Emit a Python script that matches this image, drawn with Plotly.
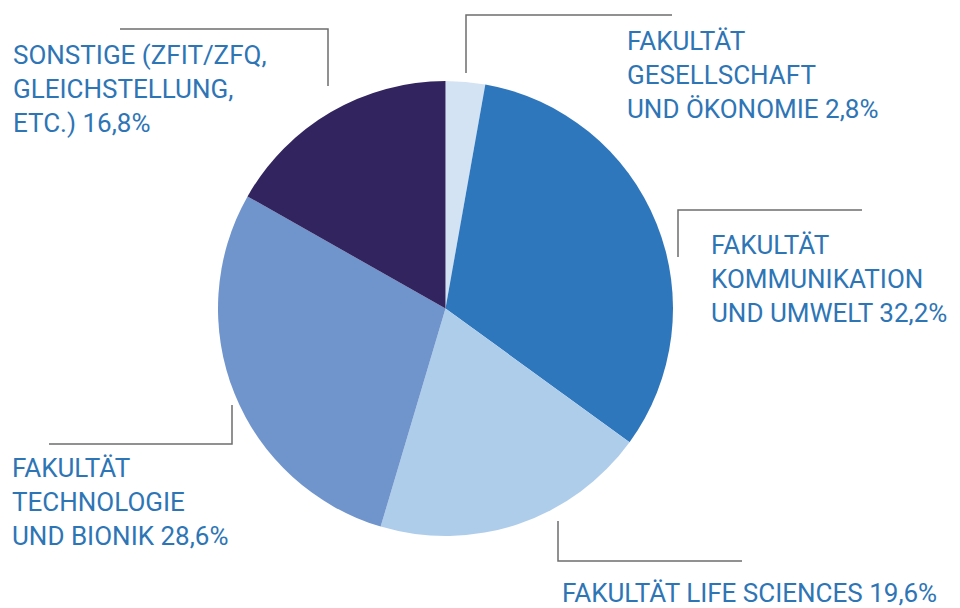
import plotly.graph_objects as go

# data
labels = [
    "FAKULTÄT GESELLSCHAFT UND ÖKONOMIE",
    "FAKULTÄT KOMMUNIKATION UND UMWELT",
    "FAKULTÄT LIFE SCIENCES",
    "FAKULTÄT TECHNOLOGIE UND BIONIK",
    "SONSTIGE (ZFIT/ZFQ, GLEICHSTELLUNG, ETC.)",
]
shares = [2.8, 32.2, 19.6, 28.6, 16.8]
colors = ["#d3e3f3", "#2e77bc", "#aecdeb", "#7094cc", "#32245e"]
label_text = [
    "FAKULTÄT<br>GESELLSCHAFT<br>UND ÖKONOMIE 2,8%",
    "FAKULTÄT<br>KOMMUNIKATION<br>UND UMWELT 32,2%",
    "FAKULTÄT LIFE SCIENCES 19,6%",
    "FAKULTÄT<br>TECHNOLOGIE<br>UND BIONIK 28,6%",
    "SONSTIGE (ZFIT/ZFQ,<br>GLEICHSTELLUNG,<br>ETC.) 16,8%",
]

W, H = 960, 608
OFF = 8  # page body margin
TXT = "#2e75b6"
LINE = "#6e6e6e"


def px(x):
    return (x - OFF) / W


def py(y):
    return 1 - (y - OFF) / H


fig = go.Figure()
fig.add_trace(go.Pie(
    labels=labels,
    values=shares,
    sort=False,
    direction="clockwise",
    rotation=0,
    textinfo="none",
    marker=dict(colors=colors, line=dict(width=0)),
    domain=dict(x=[px(218), px(673)], y=[py(536), py(81)]),
    showlegend=False,
))

# label positions (left, top) in pixels
label_pos = [(625, 24), (709, 228), (560, 576), (10, 451), (11, 38)]
for txt, (x, y) in zip(label_text, label_pos):
    fig.add_annotation(
        text=txt, x=px(x), y=py(y), xref="paper", yref="paper",
        xanchor="left", yanchor="top", align="left", showarrow=False,
        font=dict(family="Roboto", size=26, color=TXT),
    )

# leader lines (elbow shapes)
leaders = [
    [(466, 73), (466, 15), (672, 15)],
    [(678, 257), (678, 210), (862, 210)],
    [(558, 521), (558, 561), (742, 561)],
    [(232, 405), (232, 444), (49, 444)],
    [(328, 86), (328, 29), (120, 29)],
]
for pts in leaders:
    path = "M " + " L ".join(f"{px(x)},{py(y)}" for x, y in pts)
    fig.add_shape(type="path", path=path, xref="paper", yref="paper",
                  line=dict(color=LINE, width=1.5))

fig.update_layout(
    width=W, height=H,
    margin=dict(l=0, r=0, t=0, b=0),
    paper_bgcolor="white",
    plot_bgcolor="white",
)

fig.write_html("out.html")
